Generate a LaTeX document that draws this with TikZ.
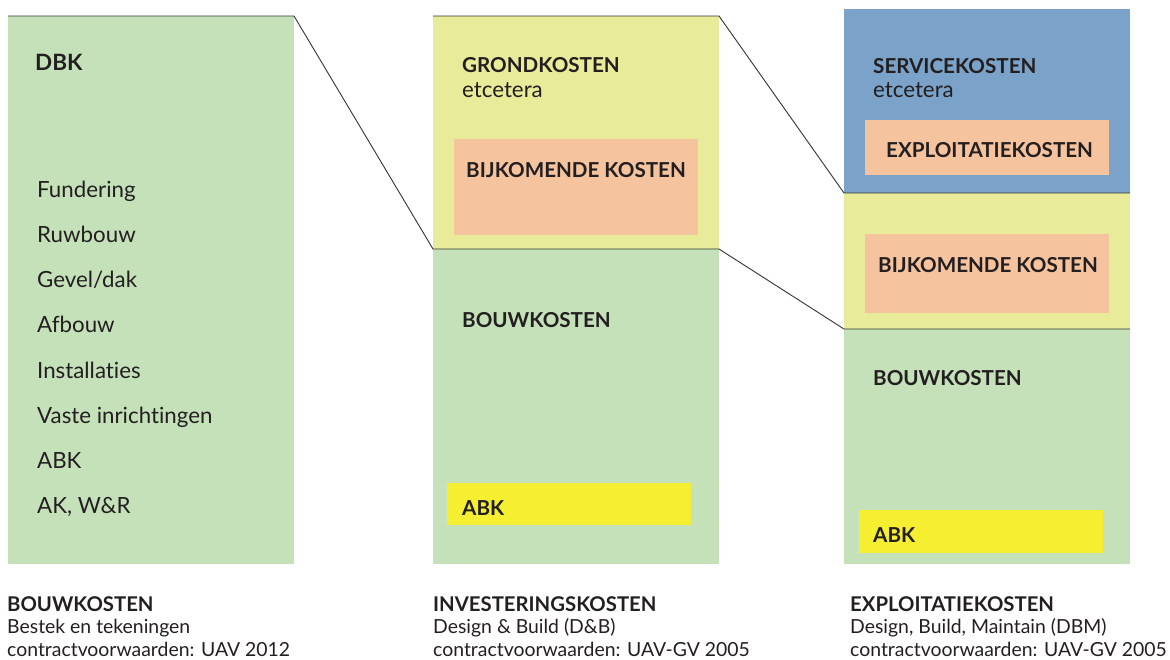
\documentclass[tikz,border=0pt]{standalone}
\usepackage{fontspec}
\setmainfont{Lato}[Ligatures={NoCommon,TeX}]
\definecolor{cgreen}{HTML}{C5E1B9}
\definecolor{cyel}{HTML}{E8EB9A}
\definecolor{cblue}{HTML}{7BA2C8}
\definecolor{csalm}{HTML}{F5C39E}
\definecolor{cabk}{HTML}{F6EE30}
\definecolor{ctext}{HTML}{231F20}
\definecolor{cline}{HTML}{333333}
\begin{document}
\begin{tikzpicture}[x=1pt,y=-1pt,
  box/.style={rectangle,inner sep=0pt,outer sep=0pt,anchor=north west,draw=none},
  head/.style={inner sep=0pt,anchor=base west,text=ctext,font=\fontsize{20.6}{24}\selectfont\bfseries},
  item/.style={inner sep=0pt,anchor=base west,text=ctext,font=\fontsize{22.3}{26}\selectfont},
  capb/.style={inner sep=0pt,anchor=base west,text=ctext,font=\fontsize{20.3}{23}\selectfont\bfseries},
  capr/.style={inner sep=0pt,anchor=base west,text=ctext,font=\fontsize{19.4}{23}\selectfont},
  link/.style={draw=cline,line width=0.9pt}]
\useasboundingbox (0,0) rectangle (1170,659);
% column 1
\node[box,fill=cgreen,minimum width=286pt,minimum height=548pt] (c1) at (8,16) {};
% column 2
\node[box,fill=cyel,minimum width=286pt,minimum height=233pt] (c2top) at (433,16) {};
\node[box,fill=cgreen,minimum width=286pt,minimum height=315pt] (c2bot) at (433,249) {};
\node[box,fill=csalm,minimum width=244pt,minimum height=96pt] (c2bijk) at (454,139) {};
\node[box,fill=cabk,minimum width=244pt,minimum height=42pt] (c2abk) at (447,483) {};
% column 3
\node[box,fill=cblue,minimum width=286pt,minimum height=184pt] (c3top) at (844,9) {};
\node[box,fill=cyel,minimum width=286pt,minimum height=136pt] (c3mid) at (844,193) {};
\node[box,fill=cgreen,minimum width=286pt,minimum height=235pt] (c3bot) at (844,329) {};
\node[box,fill=csalm,minimum width=244pt,minimum height=55pt] (c3expl) at (865,120) {};
\node[box,fill=csalm,minimum width=244pt,minimum height=79pt] (c3bijk) at (865,234) {};
\node[box,fill=cabk,minimum width=244pt,minimum height=43pt] (c3abk) at (859,510) {};
% connectors
\draw[link] (c1.north west) -- (c1.north east) -- (c2bot.north west) -- (c2bot.north east) -- (c3bot.north west) -- (c3bot.north east);
\draw[link] (c2top.north west) -- (c2top.north east) -- (c3mid.north west) -- (c3mid.north east);
% texts column 1
\node[head,font=\fontsize{22.5}{26}\selectfont\bfseries] (tdbk) at (35,70) {DBK};
\node[item] (t1) at (37,197) {Fundering};
\node[item] (t2) at (37,242) {Ruwbouw};
\node[item] (t3) at (37,287) {Gevel/dak};
\node[item] (t4) at (37,332) {Afbouw};
\node[item] (t5) at (37,378) {Installaties};
\node[item] (t6) at (37,423) {Vaste inrichtingen};
\node[item] (t7) at (37,468) {ABK};
\node[item] (t8) at (37,513) {AK, W\&R};
% texts column 2
\node[head] (tgrond) at (462,72) {GRONDKOSTEN};
\node[item] (tetc2) at (462,97) {etcetera};
\node[head] (tbijk2) at (466,177) {BIJKOMENDE KOSTEN};
\node[head] (tbouw2) at (462,327) {BOUWKOSTEN};
\node[head] (tabk2) at (462,515) {ABK};
% texts column 3
\node[head] (tserv) at (873,73) {SERVICEKOSTEN};
\node[item] (tetc3) at (873,97) {etcetera};
\node[head] (texpl) at (886,157) {EXPLOITATIEKOSTEN};
\node[head] (tbijk3) at (878,272) {BIJKOMENDE KOSTEN};
\node[head] (tbouw3) at (873,385) {BOUWKOSTEN};
\node[head] (tabk3) at (873,542) {ABK};
% captions
\node[capb] (k1a) at (7,611) {BOUWKOSTEN};
\node[capr] (k1b) at (7,633) {Bestek en tekeningen};
\node[capr] (k1c) at (7,656) {contractvoorwaarden: UAV 2012};
\node[capb] (k2a) at (433,611) {INVESTERINGSKOSTEN};
\node[capr] (k2b) at (433,633) {Design \& Build (D\&B)};
\node[capr] (k2c) at (433,656) {contractvoorwaarden: UAV-GV 2005};
\node[capb] (k3a) at (850,611) {EXPLOITATIEKOSTEN};
\node[capr] (k3b) at (850,633) {Design, Build, Maintain (DBM)};
\node[capr] (k3c) at (850,656) {contractvoorwaarden: UAV-GV 2005};
\end{tikzpicture}
\end{document}
